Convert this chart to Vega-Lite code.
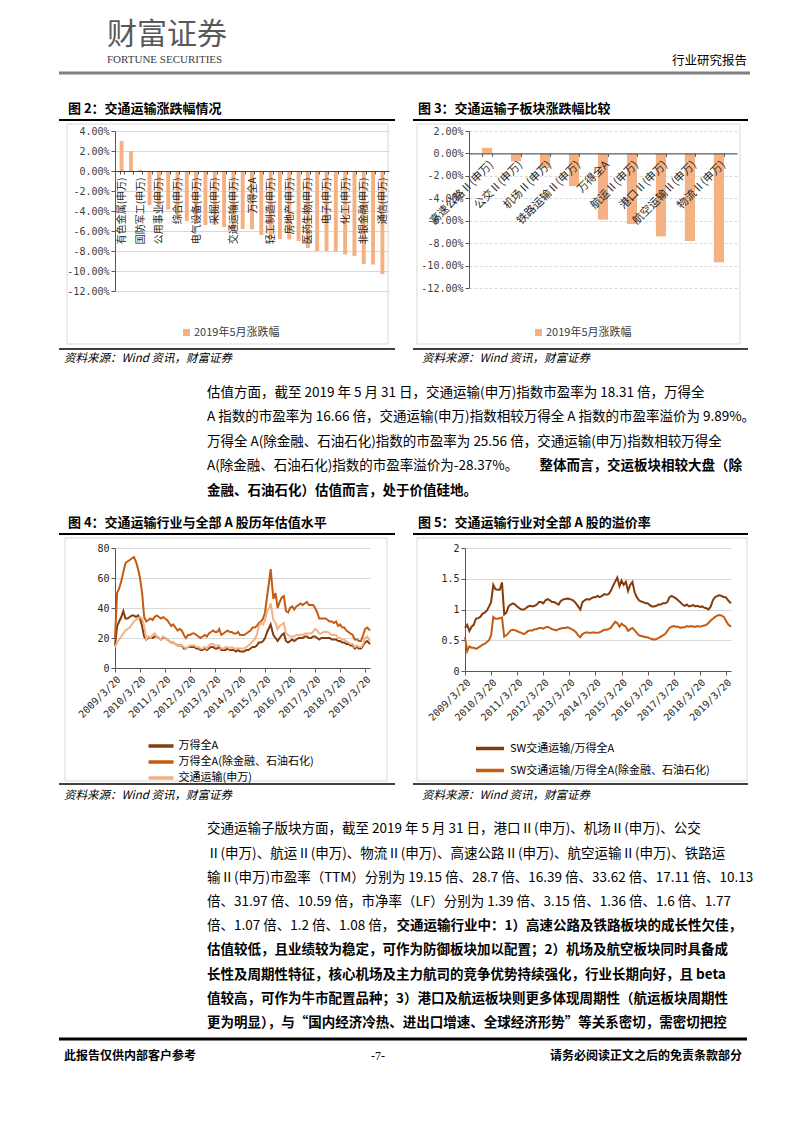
{
"$schema": "https://vega.github.io/schema/vega-lite/v6.json",
"background": "white",
"padding": {"left": 57, "top": 20, "right": 0, "bottom": 0},
"config": {
  "view": {"stroke": null},
  "font": "Noto Sans CJK SC",
  "axis": {"labelColor": "#404040", "domainColor": "#595959", "tickColor": "#595959", "gridColor": "#d9d9d9", "labelFlush": false, "title": null},
  "legend": {"labelFont": "Noto Sans CJK SC"},
  "title": {"color": "#000000"}
},
"datasets": {
  "fig2": [
    {"name": "有色金属(申万)", "v": 0.030},
    {"name": "农林牧渔(申万)", "v": 0.020},
    {"name": "国防军工(申万)", "v": 0.001},
    {"name": "银行(申万)", "v": -0.034},
    {"name": "公用事业(申万)", "v": -0.035},
    {"name": "食品饮料(申万)", "v": -0.0385},
    {"name": "综合(申万)", "v": -0.048},
    {"name": "休闲服务(申万)", "v": -0.050},
    {"name": "电气设备(申万)", "v": -0.053},
    {"name": "建筑装饰(申万)", "v": -0.054},
    {"name": "采掘(申万)", "v": -0.054},
    {"name": "钢铁(申万)", "v": -0.056},
    {"name": "交通运输(申万)", "v": -0.0575},
    {"name": "建筑材料(申万)", "v": -0.058},
    {"name": "万得全A", "v": -0.0585},
    {"name": "家用电器(申万)", "v": -0.064},
    {"name": "轻工制造(申万)", "v": -0.0675},
    {"name": "商业贸易(申万)", "v": -0.068},
    {"name": "房地产(申万)", "v": -0.0685},
    {"name": "纺织服装(申万)", "v": -0.070},
    {"name": "医药生物(申万)", "v": -0.077},
    {"name": "汽车(申万)", "v": -0.080},
    {"name": "电子(申万)", "v": -0.080},
    {"name": "机械设备(申万)", "v": -0.0805},
    {"name": "化工(申万)", "v": -0.0835},
    {"name": "传媒(申万)", "v": -0.085},
    {"name": "非银金融(申万)", "v": -0.093},
    {"name": "计算机(申万)", "v": -0.0935},
    {"name": "通信(申万)", "v": -0.103}
  ],
  "fig3": [
    {"name": "高速公路Ⅱ(申万)", "v": 0.005},
    {"name": "公交Ⅱ(申万)", "v": -0.007},
    {"name": "机场Ⅱ(申万)", "v": -0.013},
    {"name": "铁路运输Ⅱ(申万)", "v": -0.029},
    {"name": "万得全A", "v": -0.059},
    {"name": "航运Ⅱ(申万)", "v": -0.063},
    {"name": "港口Ⅱ(申万)", "v": -0.074},
    {"name": "航空运输Ⅱ(申万)", "v": -0.078},
    {"name": "物流Ⅱ(申万)", "v": -0.097}
  ],
  "pe": [
    {"d": "2009/03/20", "a": 15, "b": 20, "c": 14},
    {"d": "2009/04/20", "a": 28, "b": 50, "c": 17},
    {"d": "2009/05/20", "a": 31, "b": 53, "c": 19},
    {"d": "2009/06/20", "a": 34, "b": 58, "c": 21},
    {"d": "2009/07/20", "a": 38, "b": 64, "c": 23},
    {"d": "2009/08/20", "a": 33, "b": 70, "c": 25},
    {"d": "2009/09/20", "a": 33, "b": 71, "c": 26},
    {"d": "2009/10/20", "a": 34, "b": 72, "c": 27},
    {"d": "2009/11/20", "a": 35, "b": 73, "c": 29},
    {"d": "2009/12/20", "a": 35, "b": 74, "c": 31},
    {"d": "2010/01/20", "a": 34, "b": 71, "c": 32},
    {"d": "2010/02/20", "a": 35, "b": 66, "c": 33},
    {"d": "2010/03/20", "a": 33, "b": 60, "c": 34},
    {"d": "2010/04/20", "a": 28, "b": 50, "c": 33},
    {"d": "2010/05/20", "a": 21, "b": 34, "c": 28},
    {"d": "2010/06/20", "a": 19, "b": 31, "c": 19},
    {"d": "2010/07/20", "a": 20, "b": 32, "c": 21},
    {"d": "2010/08/20", "a": 20, "b": 33, "c": 20},
    {"d": "2010/09/20", "a": 20, "b": 32, "c": 22},
    {"d": "2010/10/20", "a": 21, "b": 34, "c": 23},
    {"d": "2010/11/20", "a": 21, "b": 35, "c": 21},
    {"d": "2010/12/20", "a": 20, "b": 34, "c": 20},
    {"d": "2011/01/20", "a": 19, "b": 33, "c": 19},
    {"d": "2011/02/20", "a": 20, "b": 34, "c": 21},
    {"d": "2011/03/20", "a": 20, "b": 33, "c": 20},
    {"d": "2011/04/20", "a": 19, "b": 32, "c": 19},
    {"d": "2011/05/20", "a": 18, "b": 30, "c": 18},
    {"d": "2011/06/20", "a": 17, "b": 28, "c": 17},
    {"d": "2011/07/20", "a": 17, "b": 29, "c": 17},
    {"d": "2011/08/20", "a": 16, "b": 27, "c": 16},
    {"d": "2011/09/20", "a": 15, "b": 25, "c": 15},
    {"d": "2011/10/20", "a": 15, "b": 26, "c": 15},
    {"d": "2011/11/20", "a": 15, "b": 25, "c": 15},
    {"d": "2011/12/20", "a": 13, "b": 22, "c": 14},
    {"d": "2012/01/20", "a": 13, "b": 20, "c": 13},
    {"d": "2012/02/20", "a": 14, "b": 22, "c": 14},
    {"d": "2012/03/20", "a": 14, "b": 22, "c": 15},
    {"d": "2012/04/20", "a": 14, "b": 23, "c": 15},
    {"d": "2012/05/20", "a": 14, "b": 23, "c": 15},
    {"d": "2012/06/20", "a": 13, "b": 22, "c": 14},
    {"d": "2012/07/20", "a": 13, "b": 21, "c": 14},
    {"d": "2012/08/20", "a": 12, "b": 20, "c": 13},
    {"d": "2012/09/20", "a": 12, "b": 21, "c": 13},
    {"d": "2012/10/20", "a": 13, "b": 22, "c": 14},
    {"d": "2012/11/20", "a": 12, "b": 21, "c": 13},
    {"d": "2012/12/20", "a": 13, "b": 23, "c": 15},
    {"d": "2013/01/20", "a": 14, "b": 24, "c": 16},
    {"d": "2013/02/20", "a": 14, "b": 25, "c": 16},
    {"d": "2013/03/20", "a": 13, "b": 24, "c": 15},
    {"d": "2013/04/20", "a": 13, "b": 24, "c": 15},
    {"d": "2013/05/20", "a": 14, "b": 26, "c": 15},
    {"d": "2013/06/20", "a": 12, "b": 22, "c": 13},
    {"d": "2013/07/20", "a": 12, "b": 23, "c": 13},
    {"d": "2013/08/20", "a": 12, "b": 24, "c": 14},
    {"d": "2013/09/20", "a": 13, "b": 25, "c": 14},
    {"d": "2013/10/20", "a": 12, "b": 24, "c": 13},
    {"d": "2013/11/20", "a": 12, "b": 24, "c": 14},
    {"d": "2013/12/20", "a": 12, "b": 23, "c": 13},
    {"d": "2014/01/20", "a": 11, "b": 23, "c": 13},
    {"d": "2014/02/20", "a": 12, "b": 24, "c": 13},
    {"d": "2014/03/20", "a": 11, "b": 22, "c": 13},
    {"d": "2014/04/20", "a": 11, "b": 22, "c": 13},
    {"d": "2014/05/20", "a": 11, "b": 22, "c": 13},
    {"d": "2014/06/20", "a": 12, "b": 23, "c": 14},
    {"d": "2014/07/20", "a": 12, "b": 24, "c": 15},
    {"d": "2014/08/20", "a": 13, "b": 25, "c": 16},
    {"d": "2014/09/20", "a": 14, "b": 27, "c": 18},
    {"d": "2014/10/20", "a": 14, "b": 27, "c": 19},
    {"d": "2014/11/20", "a": 15, "b": 28, "c": 22},
    {"d": "2014/12/20", "a": 17, "b": 30, "c": 28},
    {"d": "2015/01/20", "a": 17, "b": 31, "c": 30},
    {"d": "2015/02/20", "a": 18, "b": 33, "c": 29},
    {"d": "2015/03/20", "a": 20, "b": 37, "c": 32},
    {"d": "2015/04/20", "a": 24, "b": 48, "c": 38},
    {"d": "2015/05/20", "a": 27, "b": 58, "c": 40},
    {"d": "2015/06/10", "a": 29, "b": 66, "c": 43},
    {"d": "2015/07/20", "a": 22, "b": 46, "c": 32},
    {"d": "2015/08/20", "a": 20, "b": 50, "c": 30},
    {"d": "2015/09/20", "a": 18, "b": 40, "c": 26},
    {"d": "2015/10/20", "a": 20, "b": 44, "c": 28},
    {"d": "2015/11/20", "a": 22, "b": 47, "c": 29},
    {"d": "2015/12/20", "a": 23, "b": 48, "c": 30},
    {"d": "2016/01/20", "a": 18, "b": 38, "c": 23},
    {"d": "2016/02/20", "a": 17, "b": 37, "c": 22},
    {"d": "2016/03/20", "a": 18, "b": 40, "c": 21},
    {"d": "2016/04/20", "a": 19, "b": 41, "c": 21},
    {"d": "2016/05/20", "a": 18, "b": 39, "c": 21},
    {"d": "2016/06/20", "a": 19, "b": 41, "c": 22},
    {"d": "2016/07/20", "a": 20, "b": 42, "c": 22},
    {"d": "2016/08/20", "a": 20, "b": 43, "c": 22},
    {"d": "2016/09/20", "a": 20, "b": 42, "c": 22},
    {"d": "2016/10/20", "a": 21, "b": 43, "c": 23},
    {"d": "2016/11/20", "a": 21, "b": 44, "c": 23},
    {"d": "2016/12/20", "a": 20, "b": 42, "c": 23},
    {"d": "2017/01/20", "a": 20, "b": 42, "c": 23},
    {"d": "2017/02/20", "a": 21, "b": 42, "c": 24},
    {"d": "2017/03/20", "a": 21, "b": 40, "c": 26},
    {"d": "2017/04/20", "a": 20, "b": 37, "c": 25},
    {"d": "2017/05/20", "a": 19, "b": 33, "c": 23},
    {"d": "2017/06/20", "a": 20, "b": 33, "c": 23},
    {"d": "2017/07/20", "a": 20, "b": 33, "c": 24},
    {"d": "2017/08/20", "a": 20, "b": 33, "c": 24},
    {"d": "2017/09/20", "a": 20, "b": 32, "c": 24},
    {"d": "2017/10/20", "a": 20, "b": 31, "c": 23},
    {"d": "2017/11/20", "a": 19, "b": 31, "c": 22},
    {"d": "2017/12/20", "a": 19, "b": 30, "c": 22},
    {"d": "2018/01/20", "a": 19, "b": 31, "c": 22},
    {"d": "2018/02/20", "a": 18, "b": 28, "c": 20},
    {"d": "2018/03/20", "a": 18, "b": 29, "c": 20},
    {"d": "2018/04/20", "a": 17, "b": 27, "c": 19},
    {"d": "2018/05/20", "a": 17, "b": 27, "c": 19},
    {"d": "2018/06/20", "a": 16, "b": 25, "c": 18},
    {"d": "2018/07/20", "a": 16, "b": 24, "c": 17},
    {"d": "2018/08/20", "a": 15, "b": 23, "c": 16},
    {"d": "2018/09/20", "a": 15, "b": 22, "c": 16},
    {"d": "2018/10/20", "a": 13, "b": 19, "c": 14},
    {"d": "2018/11/20", "a": 14, "b": 19, "c": 15},
    {"d": "2018/12/20", "a": 13, "b": 18, "c": 14},
    {"d": "2019/01/20", "a": 13, "b": 18, "c": 14},
    {"d": "2019/02/20", "a": 15, "b": 22, "c": 16},
    {"d": "2019/03/20", "a": 17, "b": 26, "c": 20},
    {"d": "2019/04/20", "a": 18, "b": 27, "c": 21},
    {"d": "2019/05/31", "a": 16, "b": 25, "c": 18}
  ],
  "prem": [
    {"d": "2009/03/20", "a": 0.70, "b": 0.55},
    {"d": "2009/04/20", "a": 0.75, "b": 0.32},
    {"d": "2009/05/20", "a": 0.65, "b": 0.40},
    {"d": "2009/06/20", "a": 0.72, "b": 0.38},
    {"d": "2009/07/20", "a": 0.75, "b": 0.38},
    {"d": "2009/08/20", "a": 0.85, "b": 0.36},
    {"d": "2009/09/20", "a": 0.86, "b": 0.38},
    {"d": "2009/10/20", "a": 0.88, "b": 0.40},
    {"d": "2009/11/20", "a": 0.93, "b": 0.43},
    {"d": "2009/12/20", "a": 0.95, "b": 0.44},
    {"d": "2010/01/20", "a": 0.98, "b": 0.47},
    {"d": "2010/02/20", "a": 1.05, "b": 0.50},
    {"d": "2010/03/20", "a": 1.12, "b": 0.58},
    {"d": "2010/04/20", "a": 1.40, "b": 0.88},
    {"d": "2010/05/20", "a": 1.33, "b": 0.85},
    {"d": "2010/06/20", "a": 1.32, "b": 0.85},
    {"d": "2010/07/20", "a": 1.32, "b": 0.86},
    {"d": "2010/08/20", "a": 1.44, "b": 0.87},
    {"d": "2010/09/20", "a": 0.92, "b": 0.56},
    {"d": "2010/10/20", "a": 0.95, "b": 0.58},
    {"d": "2010/11/20", "a": 1.05, "b": 0.62},
    {"d": "2010/12/20", "a": 1.08, "b": 0.66},
    {"d": "2011/01/20", "a": 1.10, "b": 0.67},
    {"d": "2011/02/20", "a": 1.08, "b": 0.66},
    {"d": "2011/03/20", "a": 1.05, "b": 0.65},
    {"d": "2011/04/20", "a": 1.02, "b": 0.63},
    {"d": "2011/05/20", "a": 1.00, "b": 0.62},
    {"d": "2011/06/20", "a": 1.00, "b": 0.60},
    {"d": "2011/07/20", "a": 1.02, "b": 0.62},
    {"d": "2011/08/20", "a": 1.05, "b": 0.65},
    {"d": "2011/09/20", "a": 1.06, "b": 0.66},
    {"d": "2011/10/20", "a": 1.05, "b": 0.66},
    {"d": "2011/11/20", "a": 1.06, "b": 0.68},
    {"d": "2011/12/20", "a": 1.08, "b": 0.68},
    {"d": "2012/01/20", "a": 1.12, "b": 0.70},
    {"d": "2012/02/20", "a": 1.12, "b": 0.70},
    {"d": "2012/03/20", "a": 1.10, "b": 0.69},
    {"d": "2012/04/20", "a": 1.15, "b": 0.71},
    {"d": "2012/05/20", "a": 1.17, "b": 0.72},
    {"d": "2012/06/20", "a": 1.15, "b": 0.70},
    {"d": "2012/07/20", "a": 1.12, "b": 0.68},
    {"d": "2012/08/20", "a": 1.12, "b": 0.67},
    {"d": "2012/09/20", "a": 1.10, "b": 0.66},
    {"d": "2012/10/20", "a": 1.08, "b": 0.68},
    {"d": "2012/11/20", "a": 1.14, "b": 0.69},
    {"d": "2012/12/20", "a": 1.16, "b": 0.70},
    {"d": "2013/01/20", "a": 1.17, "b": 0.70},
    {"d": "2013/02/20", "a": 1.18, "b": 0.71},
    {"d": "2013/03/20", "a": 1.17, "b": 0.70},
    {"d": "2013/04/20", "a": 1.16, "b": 0.68},
    {"d": "2013/05/20", "a": 1.14, "b": 0.66},
    {"d": "2013/06/20", "a": 1.10, "b": 0.63},
    {"d": "2013/07/20", "a": 1.05, "b": 0.58},
    {"d": "2013/08/20", "a": 1.00, "b": 0.55},
    {"d": "2013/09/20", "a": 1.12, "b": 0.60},
    {"d": "2013/10/20", "a": 1.15, "b": 0.62},
    {"d": "2013/11/20", "a": 1.17, "b": 0.63},
    {"d": "2013/12/20", "a": 1.16, "b": 0.62},
    {"d": "2014/01/20", "a": 1.18, "b": 0.62},
    {"d": "2014/02/20", "a": 1.20, "b": 0.63},
    {"d": "2014/03/20", "a": 1.20, "b": 0.62},
    {"d": "2014/04/20", "a": 1.22, "b": 0.62},
    {"d": "2014/05/20", "a": 1.20, "b": 0.63},
    {"d": "2014/06/20", "a": 1.22, "b": 0.65},
    {"d": "2014/07/20", "a": 1.25, "b": 0.67},
    {"d": "2014/08/20", "a": 1.24, "b": 0.67},
    {"d": "2014/09/20", "a": 1.25, "b": 0.68},
    {"d": "2014/10/20", "a": 1.30, "b": 0.70},
    {"d": "2014/11/20", "a": 1.38, "b": 0.75},
    {"d": "2014/12/20", "a": 1.45, "b": 0.80},
    {"d": "2015/01/20", "a": 1.52, "b": 0.78},
    {"d": "2015/02/20", "a": 1.38, "b": 0.72},
    {"d": "2015/03/20", "a": 1.47, "b": 0.77},
    {"d": "2015/04/20", "a": 1.40, "b": 0.74},
    {"d": "2015/05/20", "a": 1.45, "b": 0.72},
    {"d": "2015/06/20", "a": 1.30, "b": 0.65},
    {"d": "2015/07/20", "a": 1.40, "b": 0.68},
    {"d": "2015/08/20", "a": 1.45, "b": 0.70},
    {"d": "2015/09/20", "a": 1.28, "b": 0.66},
    {"d": "2015/10/20", "a": 1.20, "b": 0.62},
    {"d": "2015/11/20", "a": 1.15, "b": 0.58},
    {"d": "2015/12/20", "a": 1.13, "b": 0.57},
    {"d": "2016/01/20", "a": 1.12, "b": 0.56},
    {"d": "2016/02/20", "a": 1.10, "b": 0.55},
    {"d": "2016/03/20", "a": 1.10, "b": 0.55},
    {"d": "2016/04/20", "a": 1.07, "b": 0.53},
    {"d": "2016/05/20", "a": 1.05, "b": 0.52},
    {"d": "2016/06/20", "a": 1.05, "b": 0.51},
    {"d": "2016/07/20", "a": 1.06, "b": 0.52},
    {"d": "2016/08/20", "a": 1.08, "b": 0.54},
    {"d": "2016/09/20", "a": 1.08, "b": 0.56},
    {"d": "2016/10/20", "a": 1.10, "b": 0.58},
    {"d": "2016/11/20", "a": 1.10, "b": 0.60},
    {"d": "2016/12/20", "a": 1.12, "b": 0.65},
    {"d": "2017/01/20", "a": 1.20, "b": 0.70},
    {"d": "2017/02/20", "a": 1.22, "b": 0.72},
    {"d": "2017/03/20", "a": 1.20, "b": 0.73},
    {"d": "2017/04/20", "a": 1.18, "b": 0.72},
    {"d": "2017/05/20", "a": 1.15, "b": 0.72},
    {"d": "2017/06/20", "a": 1.12, "b": 0.70},
    {"d": "2017/07/20", "a": 1.08, "b": 0.71},
    {"d": "2017/08/20", "a": 1.06, "b": 0.71},
    {"d": "2017/09/20", "a": 1.08, "b": 0.73},
    {"d": "2017/10/20", "a": 1.05, "b": 0.72},
    {"d": "2017/11/20", "a": 1.06, "b": 0.73},
    {"d": "2017/12/20", "a": 1.07, "b": 0.72},
    {"d": "2018/01/20", "a": 1.05, "b": 0.72},
    {"d": "2018/02/20", "a": 1.06, "b": 0.73},
    {"d": "2018/03/20", "a": 1.04, "b": 0.72},
    {"d": "2018/04/20", "a": 1.05, "b": 0.73},
    {"d": "2018/05/20", "a": 1.03, "b": 0.74},
    {"d": "2018/06/20", "a": 1.02, "b": 0.75},
    {"d": "2018/07/20", "a": 1.00, "b": 0.78},
    {"d": "2018/08/20", "a": 1.05, "b": 0.82},
    {"d": "2018/09/20", "a": 1.15, "b": 0.85},
    {"d": "2018/10/20", "a": 1.20, "b": 0.88},
    {"d": "2018/11/20", "a": 1.22, "b": 0.90},
    {"d": "2018/12/20", "a": 1.23, "b": 0.91},
    {"d": "2019/01/20", "a": 1.22, "b": 0.90},
    {"d": "2019/02/20", "a": 1.20, "b": 0.88},
    {"d": "2019/03/20", "a": 1.20, "b": 0.82},
    {"d": "2019/04/20", "a": 1.15, "b": 0.76},
    {"d": "2019/05/31", "a": 1.10, "b": 0.72}
  ],
  "para1": [
    {"ln": 1, "t": "　　估值方面，截至 2019 年 5 月 31 日，交通运输(申万)指数市盈率为 18.31 倍，万得全", "b": "", "bl": ""},
    {"ln": 2, "t": "A 指数的市盈率为 16.66 倍，交通运输(申万)指数相较万得全 A 指数的市盈率溢价为 9.89%。", "b": "", "bl": ""},
    {"ln": 3, "t": "万得全 A(除金融、石油石化)指数的市盈率为 25.56 倍，交通运输(申万)指数相较万得全", "b": "", "bl": ""},
    {"ln": 4, "t": "A(除金融、石油石化)指数的市盈率溢价为-28.37%。", "b": "整体而言，交运板块相较大盘（除", "bl": ""},
    {"ln": 5, "t": "", "b": "", "bl": "金融、石油石化）估值而言，处于价值硅地。"}
  ],
  "para2": [
    {"ln": 1, "t": "　　交通运输子版块方面，截至 2019 年 5 月 31 日，港口Ⅱ(申万)、机场Ⅱ(申万)、公交", "b": "", "bl": ""},
    {"ln": 2, "t": "Ⅱ(申万)、航运Ⅱ(申万)、物流Ⅱ(申万)、高速公路Ⅱ(申万)、航空运输Ⅱ(申万)、铁路运", "b": "", "bl": ""},
    {"ln": 3, "t": "输Ⅱ(申万)市盈率（TTM）分别为 19.15 倍、28.7 倍、16.39 倍、33.62 倍、17.11 倍、10.13", "b": "", "bl": ""},
    {"ln": 4, "t": "倍、31.97 倍、10.59 倍，市净率（LF）分别为 1.39 倍、3.15 倍、1.36 倍、1.6 倍、1.77", "b": "", "bl": ""},
    {"ln": 5, "t": "倍、1.07 倍、1.2 倍、1.08 倍，", "b": "交通运输行业中：1）高速公路及铁路板块的成长性欠佳，", "bl": ""},
    {"ln": 6, "t": "", "b": "", "bl": "估值较低，且业绩较为稳定，可作为防御板块加以配置；2）机场及航空板块同时具备成"},
    {"ln": 7, "t": "", "b": "", "bl": "长性及周期性特征，核心机场及主力航司的竞争优势持续强化，行业长期向好，且 beta"},
    {"ln": 8, "t": "", "b": "", "bl": "值较高，可作为牛市配置品种；3）港口及航运板块则更多体现周期性（航运板块周期性"},
    {"ln": 9, "t": "", "b": "", "bl": "更为明显），与“国内经济冷热、进出口增速、全球经济形势”等关系密切，需密切把控"}
  ]
},
"concat": [
  {
    "width": 635, "height": 30,
    "data": {"values": [{"logo": "财富证券", "en": "FORTUNE SECURITIES", "t": "行业研究报告"}]},
    "layer": [
      {"mark": {"type": "rule", "color": "#7f7f7f", "strokeWidth": 3}, "encoding": {"x": {"value": -56}, "x2": {"value": "width"}, "y": {"value": 0}}},
      {"mark": {"type": "text", "align": "left", "baseline": "middle", "fontSize": 30, "color": "#595959"}, "encoding": {"x": {"value": -8}, "y": {"value": -38}, "text": {"field": "logo"}}},
      {"mark": {"type": "text", "align": "left", "baseline": "middle", "fontSize": 11, "font": "Liberation Serif", "color": "#404040"}, "encoding": {"x": {"value": -8}, "y": {"value": -13}, "text": {"field": "en"}}},
      {"mark": {"type": "text", "align": "right", "baseline": "middle", "fontSize": 12.5, "color": "#000000", "dx": -3}, "encoding": {"x": {"value": "width"}, "y": {"value": -12}, "text": {"field": "t"}}}
    ]
  },
  {
    "hconcat": [
      {
        "width": 274, "height": 160,
        "title": {"text": "图 2：交通运输涨跌幅情况", "anchor": "start", "frame": "bounds", "dx": 10, "offset": 3, "fontSize": 13, "fontWeight": "bold"},
        "layer": [
          {"data": {"values": [{"k": 1}]}, "mark": {"type": "rect", "fill": null, "stroke": "#d9d9d9", "strokeWidth": 1}, "encoding": {"x": {"value": -48}, "x2": {"value": 273}, "y": {"value": -7}, "y2": {"value": 213}}},
          {
            "data": {"name": "fig2"},
            "mark": {"type": "bar"},
            "encoding": {
              "x": {"field": "name", "type": "nominal", "sort": null,
                "scale": {"paddingInner": 0.58, "paddingOuter": 0.5},
                "axis": {"title": null, "orient": "bottom", "offset": -120, "zindex": 1, "labelAngle": -90, "labelFontSize": 10, "labelPadding": 3, "tickSize": 3, "tickBand": "extent", "domainColor": "#404040", "labelOverlap": false, "labelColor": "#262626",
                  "labelExpr": "indexof(['农林牧渔(申万)','银行(申万)','食品饮料(申万)','休闲服务(申万)','建筑装饰(申万)','钢铁(申万)','建筑材料(申万)','家用电器(申万)','商业贸易(申万)','纺织服装(申万)','汽车(申万)','机械设备(申万)','传媒(申万)','计算机(申万)'], datum.value) >= 0 ? '' : datum.value"}},
              "y": {"field": "v", "type": "quantitative", "scale": {"domain": [-0.12, 0.04], "nice": false},
                "axis": {"title": null, "values": [-0.12, -0.1, -0.08, -0.06, -0.04, -0.02, 0, 0.02, 0.04], "labelExpr": "replace(format(datum.value, '.2%'), '−', '-')", "labelFont": "DejaVu Sans Mono", "labelFontSize": 10, "grid": true, "tickSize": 4}},
              "color": {"datum": "2019年5月涨跌幅", "type": "nominal", "scale": {"range": ["#F4B183"]},
                "legend": {"title": null, "orient": "none", "legendX": 66, "legendY": 196, "symbolType": "square", "symbolSize": 49, "symbolStrokeWidth": 0, "labelOffset": 2, "labelFontSize": 11, "labelColor": "#404040"}}
            }
          },
          {"data": {"values": [{"k": 1}]}, "mark": {"type": "rule", "color": "#000000", "strokeWidth": 2}, "encoding": {"x": {"value": -56}, "x2": {"value": 280}, "y": {"value": -11}}},
          {"data": {"values": [{"k": 1}]}, "mark": {"type": "rule", "color": "#000000", "strokeWidth": 1.5}, "encoding": {"x": {"value": -56}, "x2": {"value": 280}, "y": {"value": 218}}},
          {"data": {"values": [{"t": "资料来源：Wind 资讯，财富证券"}]}, "mark": {"type": "text", "align": "left", "baseline": "middle", "fontSize": 11.5, "fontStyle": "italic", "color": "#000000"}, "encoding": {"x": {"value": -51}, "y": {"value": 228}, "text": {"field": "t"}}}
        ]
      },
      {
        "width": 268, "height": 157,
        "title": {"text": "图 3：交通运输子板块涨跌幅比较", "anchor": "start", "frame": "bounds", "dx": 6, "offset": 3, "fontSize": 13, "fontWeight": "bold"},
        "layer": [
          {"data": {"values": [{"k": 1}]}, "mark": {"type": "rect", "fill": null, "stroke": "#d9d9d9", "strokeWidth": 1}, "encoding": {"x": {"value": -52}, "x2": {"value": 271}, "y": {"value": -7}, "y2": {"value": 213}}},
          {
            "data": {"name": "fig3"},
            "mark": {"type": "bar"},
            "encoding": {
              "x": {"field": "name", "type": "nominal", "sort": null,
                "scale": {"paddingInner": 0.65, "paddingOuter": 0.45},
                "axis": {"title": null, "orient": "bottom", "offset": -134.6, "zindex": 1, "labelAngle": -45, "labelFontSize": 11, "labelPadding": 2, "tickSize": 3, "tickBand": "extent", "domainColor": "#404040", "labelOverlap": false, "labelColor": "#262626"}},
              "y": {"field": "v", "type": "quantitative", "scale": {"domain": [-0.12, 0.02], "nice": false},
                "axis": {"title": null, "values": [-0.12, -0.1, -0.08, -0.06, -0.04, -0.02, 0, 0.02], "labelExpr": "replace(format(datum.value, '.2%'), '−', '-')", "labelFont": "DejaVu Sans Mono", "labelFontSize": 10, "grid": true, "gridDash": [3, 2], "tickSize": 4}},
              "color": {"datum": "2019年5月涨跌幅", "type": "nominal", "scale": {"range": ["#F4B183"]},
                "legend": {"title": null, "orient": "none", "legendX": 64, "legendY": 196, "symbolType": "square", "symbolSize": 49, "symbolStrokeWidth": 0, "labelOffset": 2, "labelFontSize": 11, "labelColor": "#404040"}}
            }
          },
          {"data": {"values": [{"k": 1}]}, "mark": {"type": "rule", "color": "#000000", "strokeWidth": 2}, "encoding": {"x": {"value": -56}, "x2": {"value": 279}, "y": {"value": -11}}},
          {"data": {"values": [{"k": 1}]}, "mark": {"type": "rule", "color": "#000000", "strokeWidth": 1.5}, "encoding": {"x": {"value": -56}, "x2": {"value": 279}, "y": {"value": 218}}},
          {"data": {"values": [{"t": "资料来源：Wind 资讯，财富证券"}]}, "mark": {"type": "text", "align": "left", "baseline": "middle", "fontSize": 11.5, "fontStyle": "italic", "color": "#000000"}, "encoding": {"x": {"value": -47}, "y": {"value": 228}, "text": {"field": "t"}}}
        ]
      }
    ],
    "spacing": 16,
    "resolve": {"scale": {"color": "independent"}, "legend": {"color": "independent"}}
  },
  {
    "width": 627, "height": 151.5,
    "data": {"name": "para1"},
    "encoding": {
      "y": {"field": "ln", "type": "ordinal", "bandPosition": 0.5, "scale": {"type": "band", "paddingInner": 0, "paddingOuter": 0.592, "align": 0.543}, "axis": null}
    },
    "layer": [
      {"mark": {"type": "text", "align": "left", "baseline": "middle", "fontSize": 13.5, "color": "#000000"}, "encoding": {"x": {"value": 92}, "text": {"field": "t"}}},
      {"mark": {"type": "text", "align": "right", "baseline": "middle", "fontSize": 13.5, "fontWeight": "bold", "color": "#000000"}, "encoding": {"x": {"value": "width"}, "text": {"field": "b"}}},
      {"mark": {"type": "text", "align": "left", "baseline": "middle", "fontSize": 13.5, "fontWeight": "bold", "color": "#000000"}, "encoding": {"x": {"value": 92}, "text": {"field": "bl"}}}
    ]
  },
  {
    "hconcat": [
      {
        "width": 255, "height": 120,
        "title": {"text": "图 4：交通运输行业与全部 A 股历年估值水平", "anchor": "start", "frame": "bounds", "dx": 10, "offset": 3, "fontSize": 13, "fontWeight": "bold"},
        "layer": [
          {"data": {"values": [{"k": 1}]}, "mark": {"type": "rect", "fill": null, "stroke": "#d9d9d9", "strokeWidth": 1}, "encoding": {"x": {"value": -50}, "x2": {"value": 272}, "y": {"value": -10}, "y2": {"value": 233}}},
          {
            "data": {"name": "pe"},
            "transform": [{"fold": ["a", "b", "c"], "as": ["s", "v"]}],
            "mark": {"type": "line", "strokeWidth": 2},
            "encoding": {
              "x": {"field": "d", "type": "temporal",
                "scale": {"domain": [{"year": 2009, "month": 3, "date": 20}, {"year": 2019, "month": 5, "date": 31}]},
                "axis": {"title": null, "values": [{"year": 2009, "month": 3, "date": 20}, {"year": 2010, "month": 3, "date": 20}, {"year": 2011, "month": 3, "date": 20}, {"year": 2012, "month": 3, "date": 20}, {"year": 2013, "month": 3, "date": 20}, {"year": 2014, "month": 3, "date": 20}, {"year": 2015, "month": 3, "date": 20}, {"year": 2016, "month": 3, "date": 20}, {"year": 2017, "month": 3, "date": 20}, {"year": 2018, "month": 3, "date": 20}, {"year": 2019, "month": 3, "date": 20}],
                  "format": "%Y/%-m/%d", "labelAngle": -45, "labelFont": "DejaVu Sans Mono", "labelFontSize": 10, "tickSize": 4, "grid": false, "labelOverlap": false, "labelColor": "#262626"}},
              "y": {"field": "v", "type": "quantitative", "scale": {"domain": [0, 80], "nice": false},
                "axis": {"title": null, "values": [0, 20, 40, 60, 80], "labelFont": "DejaVu Sans Mono", "labelFontSize": 10, "grid": true, "tickSize": 4, "labelColor": "#262626"}},
              "color": {"field": "s", "type": "nominal", "scale": {"domain": ["a", "b", "c"], "range": ["#843C0C", "#C55A11", "#F4B183"]},
                "legend": {"title": null, "orient": "none", "legendX": 38, "legendY": 190, "direction": "vertical", "symbolType": "M-2,0H2", "symbolSize": 156, "symbolStrokeWidth": 3.5, "labelFontSize": 11, "labelColor": "#000000", "rowPadding": 1, "labelOffset": 9.5, "labelLimit": 300,
                  "labelExpr": "datum.value == 'a' ? '万得全A' : datum.value == 'b' ? '万得全A(除金融、石油石化)' : '交通运输(申万)'"}}
            }
          },
          {"data": {"values": [{"k": 1}]}, "mark": {"type": "rule", "color": "#000000", "strokeWidth": 2}, "encoding": {"x": {"value": -56}, "x2": {"value": 280}, "y": {"value": -14}}},
          {"data": {"values": [{"k": 1}]}, "mark": {"type": "rule", "color": "#000000", "strokeWidth": 1.5}, "encoding": {"x": {"value": -56}, "x2": {"value": 280}, "y": {"value": 236}}},
          {"data": {"values": [{"t": "资料来源：Wind 资讯，财富证券"}]}, "mark": {"type": "text", "align": "left", "baseline": "middle", "fontSize": 11.5, "fontStyle": "italic", "color": "#000000"}, "encoding": {"x": {"value": -51}, "y": {"value": 248}, "text": {"field": "t"}}}
        ]
      },
      {
        "width": 266, "height": 123,
        "title": {"text": "图 5：交通运输行业对全部 A 股的溢价率", "anchor": "start", "frame": "bounds", "dx": 6, "offset": 3, "fontSize": 13, "fontWeight": "bold"},
        "layer": [
          {"data": {"values": [{"k": 1}]}, "mark": {"type": "rect", "fill": null, "stroke": "#d9d9d9", "strokeWidth": 1}, "encoding": {"x": {"value": -48}, "x2": {"value": 282}, "y": {"value": -10}, "y2": {"value": 233}}},
          {
            "data": {"name": "prem"},
            "transform": [{"fold": ["a", "b"], "as": ["s", "v"]}],
            "mark": {"type": "line", "strokeWidth": 2},
            "encoding": {
              "x": {"field": "d", "type": "temporal",
                "scale": {"domain": [{"year": 2009, "month": 3, "date": 20}, {"year": 2019, "month": 5, "date": 31}]},
                "axis": {"title": null, "values": [{"year": 2009, "month": 3, "date": 20}, {"year": 2010, "month": 3, "date": 20}, {"year": 2011, "month": 3, "date": 20}, {"year": 2012, "month": 3, "date": 20}, {"year": 2013, "month": 3, "date": 20}, {"year": 2014, "month": 3, "date": 20}, {"year": 2015, "month": 3, "date": 20}, {"year": 2016, "month": 3, "date": 20}, {"year": 2017, "month": 3, "date": 20}, {"year": 2018, "month": 3, "date": 20}, {"year": 2019, "month": 3, "date": 20}],
                  "format": "%Y/%-m/%d", "labelAngle": -45, "labelFont": "DejaVu Sans Mono", "labelFontSize": 10, "tickSize": 4, "grid": false, "labelOverlap": false, "labelColor": "#262626"}},
              "y": {"field": "v", "type": "quantitative", "scale": {"domain": [0, 2], "nice": false},
                "axis": {"title": null, "values": [0, 0.5, 1, 1.5, 2], "format": "~g", "labelFont": "DejaVu Sans Mono", "labelFontSize": 10, "grid": true, "tickSize": 4, "labelColor": "#262626"}},
              "color": {"field": "s", "type": "nominal", "scale": {"domain": ["a", "b"], "range": ["#843C0C", "#C55A11"]},
                "legend": {"title": null, "orient": "none", "legendX": 16, "legendY": 191.5, "direction": "vertical", "symbolType": "M-2,0H2", "symbolSize": 196, "symbolStrokeWidth": 3.5, "labelFontSize": 11, "labelColor": "#000000", "rowPadding": 6, "labelOffset": 11, "labelLimit": 300,
                  "labelExpr": "datum.value == 'a' ? 'SW交通运输/万得全A' : 'SW交通运输/万得全A(除金融、石油石化)'"}}
            }
          },
          {"data": {"values": [{"k": 1}]}, "mark": {"type": "rule", "color": "#000000", "strokeWidth": 2}, "encoding": {"x": {"value": -52}, "x2": {"value": 283}, "y": {"value": -14}}},
          {"data": {"values": [{"k": 1}]}, "mark": {"type": "rule", "color": "#000000", "strokeWidth": 1.5}, "encoding": {"x": {"value": -52}, "x2": {"value": 283}, "y": {"value": 236}}},
          {"data": {"values": [{"t": "资料来源：Wind 资讯，财富证券"}]}, "mark": {"type": "text", "align": "left", "baseline": "middle", "fontSize": 11.5, "fontStyle": "italic", "color": "#000000"}, "encoding": {"x": {"value": -43}, "y": {"value": 248}, "text": {"field": "t"}}}
        ]
      }
    ],
    "spacing": 16,
    "resolve": {"scale": {"color": "independent"}, "legend": {"color": "independent"}}
  },
  {
    "width": 627, "height": 234.5,
    "data": {"name": "para2"},
    "encoding": {
      "y": {"field": "ln", "type": "ordinal", "bandPosition": 0.5, "scale": {"type": "band", "paddingInner": 0, "paddingOuter": 0.345, "align": 0.92}, "axis": null}
    },
    "layer": [
      {"mark": {"type": "text", "align": "left", "baseline": "middle", "fontSize": 13.5, "color": "#000000"}, "encoding": {"x": {"value": 92}, "text": {"field": "t"}}},
      {"mark": {"type": "text", "align": "right", "baseline": "middle", "fontSize": 13.5, "fontWeight": "bold", "color": "#000000"}, "encoding": {"x": {"value": "width"}, "text": {"field": "b"}}},
      {"mark": {"type": "text", "align": "left", "baseline": "middle", "fontSize": 13.5, "fontWeight": "bold", "color": "#000000"}, "encoding": {"x": {"value": 92}, "text": {"field": "bl"}}}
    ]
  },
  {
    "width": 632, "height": 17,
    "data": {"values": [{"l": "此报告仅供内部客户参考", "m": "-7-", "r": "请务必阅读正文之后的免责条款部分"}]},
    "layer": [
      {"mark": {"type": "rule", "color": "#000000", "strokeWidth": 3}, "encoding": {"x": {"value": -56}, "x2": {"value": "width"}, "y": {"value": 0}}},
      {"mark": {"type": "text", "align": "left", "baseline": "middle", "fontSize": 12, "fontWeight": "bold", "color": "#000000"}, "encoding": {"x": {"value": -51}, "y": {"value": "height"}, "text": {"field": "l"}}},
      {"mark": {"type": "text", "align": "center", "baseline": "middle", "fontSize": 12, "font": "Liberation Serif", "color": "#000000"}, "encoding": {"x": {"value": 263}, "y": {"value": "height"}, "text": {"field": "m"}}},
      {"mark": {"type": "text", "align": "right", "baseline": "middle", "fontSize": 12, "fontWeight": "bold", "color": "#000000", "dx": -5}, "encoding": {"x": {"value": "width"}, "y": {"value": "height"}, "text": {"field": "r"}}}
    ]
  }
],
"columns": 1,
"spacing": 0,
"bounds": "full",
"resolve": {"scale": {"color": "independent"}, "legend": {"color": "independent"}}
}
